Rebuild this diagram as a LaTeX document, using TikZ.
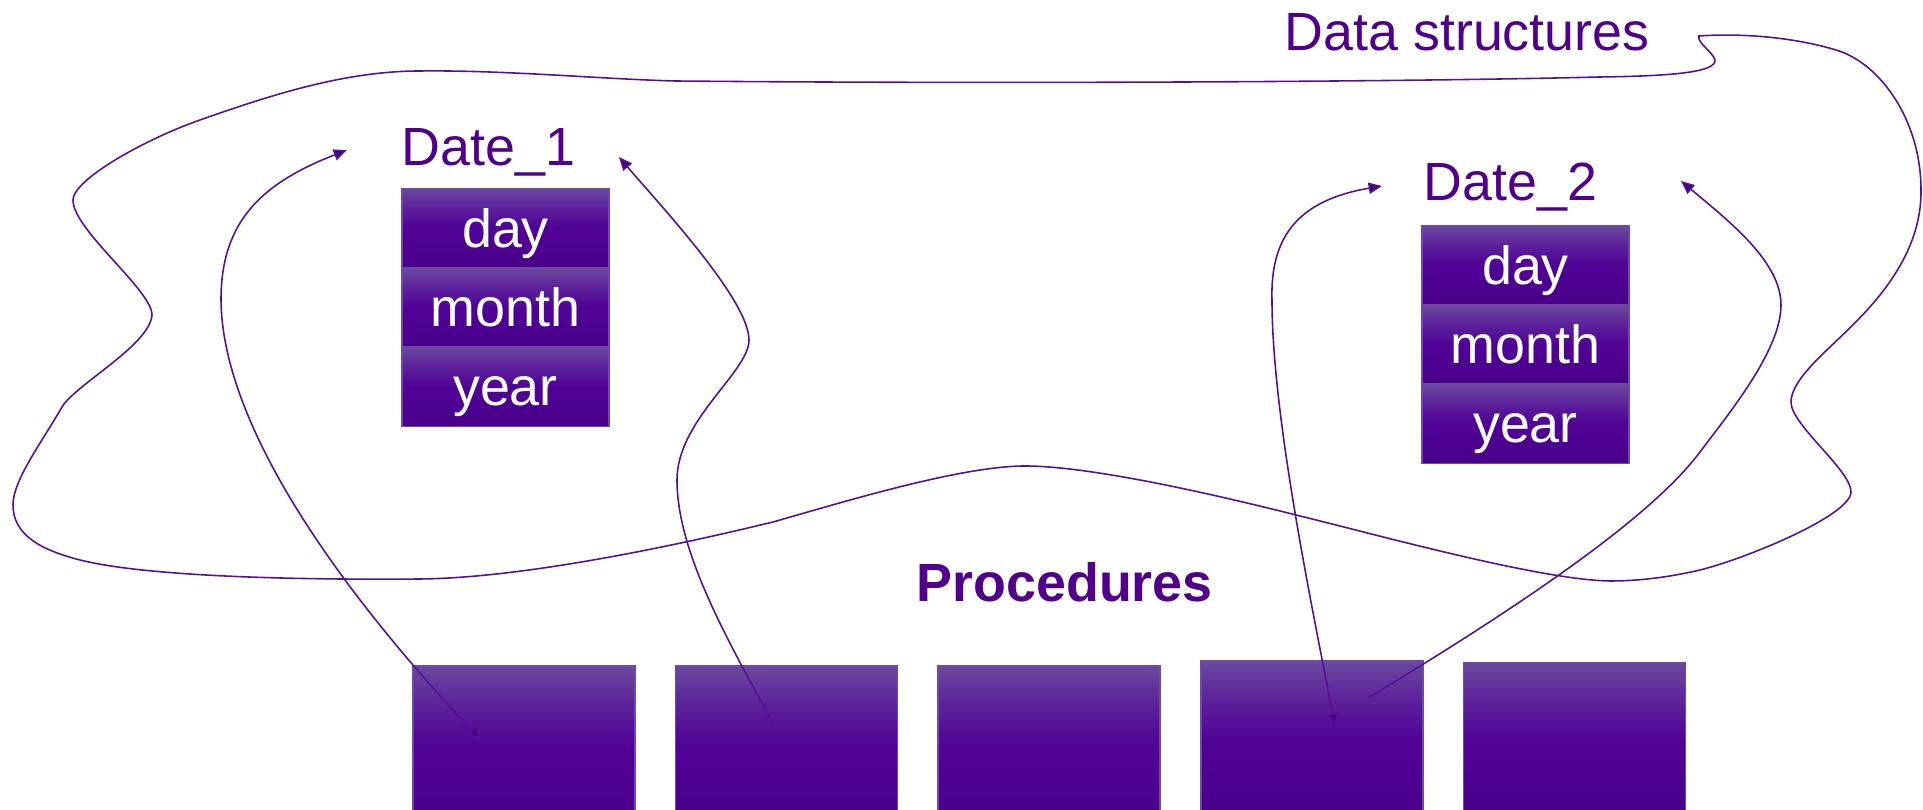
\documentclass[tikz,border=0pt]{standalone}
\usepackage{fontspec}
\setmainfont{Liberation Sans}
\usetikzlibrary{arrows.meta}

% palette
\definecolor{txtc}{RGB}{80,0,140}
\definecolor{linec}{RGB}{86,16,152}
\definecolor{tipc}{RGB}{64,0,118}
\definecolor{edgec}{RGB}{112,72,172}
\definecolor{plight}{RGB}{106,74,158}
\definecolor{pmid}{RGB}{92,34,154}
\definecolor{pdeep}{RGB}{80,2,150}
\definecolor{pdark}{RGB}{74,0,138}

% lighter at the top, dark from the middle down
\pgfdeclareverticalshading{boxshade}{100bp}{color(0bp)=(pdark); color(25bp)=(pdark); color(50bp)=(pdeep); color(63bp)=(pmid); color(75bp)=(plight); color(100bp)=(plight)}

\begin{document}
\begin{tikzpicture}[x=0.01cm, y=-0.01cm,
  lbl/.style={inner sep=0pt, text=txtc, font=\fontsize{15.3}{18}\selectfont},
  cell/.style={rectangle, inner sep=0pt, minimum width=2.07cm, minimum height=0.795cm,
    shading=boxshade, draw=edgec, line width=0.4pt, text=white,
    font=\fontsize{15.3}{18}\selectfont, text height=10.96pt, text depth=0pt},
  proc/.style={rectangle, inner sep=0pt, minimum width=2.22cm, minimum height=1.6cm,
    shading=boxshade, draw=edgec, line width=0.4pt},
  link/.style={draw=linec, line width=0.45pt},
  >={Triangle[length=3.8pt,width=3.2pt,fill=tipc]}
]
\useasboundingbox (0,0) rectangle (1923,810);
\clip (0,0) rectangle (1923,810);

% record Date_1
\node[lbl, anchor=base west] (d1lbl) at (401,166) {Date\_1};
\node[cell] (d1day)   at (505.5,228)   {day};
\node[cell] (d1month) at (505.5,307.5) {month};
\node[cell] (d1year)  at (505.5,386.5) {year};

% record Date_2
\node[lbl, anchor=base west] (d2lbl) at (1423,201) {Date\_2};
\node[cell] (d2day)   at (1525.5,265)   {day};
\node[cell] (d2month) at (1525.5,344.5) {month};
\node[cell] (d2year)  at (1525.5,423.5) {year};

% titles
\node[lbl, anchor=base west] (dstitle) at (1284,51) {Data structures};
\node[lbl, anchor=base west, font=\fontsize{15.3}{18}\selectfont\bfseries] (prtitle) at (916,602) {Procedures};

% procedure blocks
\node[proc] (p1) at (524,746) {};
\node[proc] (p2) at (786.5,746) {};
\node[proc] (p3) at (1049,746) {};
\node[proc] (p4) at (1312,741) {};
\node[proc] (p5) at (1574.5,743) {};

% connector ends
\coordinate (a1top) at (347,150);
\coordinate (a1bot) at (481,740);
\coordinate (a2top) at (619,157);
\coordinate (a2bot) at (780,737);
\coordinate (a3top) at (1382,186);
\coordinate (a3bot) at (1335,727);
\coordinate (a4top) at (1681,181);
\coordinate (a4bot) at (1368,698);

% Date_1 <-> procedure 1
\draw[link, <->] (a1top) .. controls (263,183) and (221,220) .. (221,300)
  .. controls (222,420) and (330,580) .. (a1bot);

% procedure 2 -> Date_1
\draw[link, <-] (a2top) .. controls (660,205) and (749,300) .. (749,340)
  .. controls (749,372) and (677,420) .. (677,480)
  .. controls (677,560) and (740,660) .. (a2bot);

% Date_2 <-> procedure 4
\draw[link, <->] (a3top) .. controls (1300,200) and (1270,235) .. (1272,300)
  .. controls (1272,420) and (1315,620) .. (a3bot);

% procedure 4 -> Date_2
\draw[link, <-] (a4top) .. controls (1730,222) and (1781,262) .. (1781,305)
  .. controls (1781,350) and (1730,412) .. (1700,452)
  .. controls (1652,516) and (1530,600) .. (a4bot);

% outline enclosing the data structures
\draw[link] (200,120) .. controls (271,95) and (345,71) .. (420,71)
  .. controls (505,70) and (600,79) .. (675,81)
  .. controls (1000,84) and (1400,82) .. (1600,77)
  .. controls (1675,76) and (1716,72) .. (1715,60)
  .. controls (1712,51) and (1697,43) .. (1699,36)
  .. controls (1740,33) and (1793,37) .. (1836,50)
  .. controls (1880,63) and (1921,120) .. (1921,190)
  .. controls (1922,265) and (1859,319) .. (1830,347)
  .. controls (1812,364) and (1791,385) .. (1791,402)
  .. controls (1791,425) and (1851,470) .. (1851,492)
  .. controls (1851,515) and (1748,558) .. (1700,570)
  .. controls (1670,577) and (1640,581) .. (1610,581)
  .. controls (1540,580) and (1378,535) .. (1300,516)
  .. controls (1213,494) and (1090,466) .. (1025,466)
  .. controls (960,466) and (840,503) .. (773,522)
  .. controls (666,548) and (520,578) .. (420,579)
  .. controls (300,580) and (148,577) .. (80,560)
  .. controls (41,550) and (13,535) .. (13,505)
  .. controls (13,480) and (42,442) .. (62,407)
  .. controls (75,385) and (150,345) .. (152,315)
  .. controls (152,290) and (73,230) .. (73,200)
  .. controls (73,180) and (143,140) .. (200,120) -- cycle;
\end{tikzpicture}
\end{document}
